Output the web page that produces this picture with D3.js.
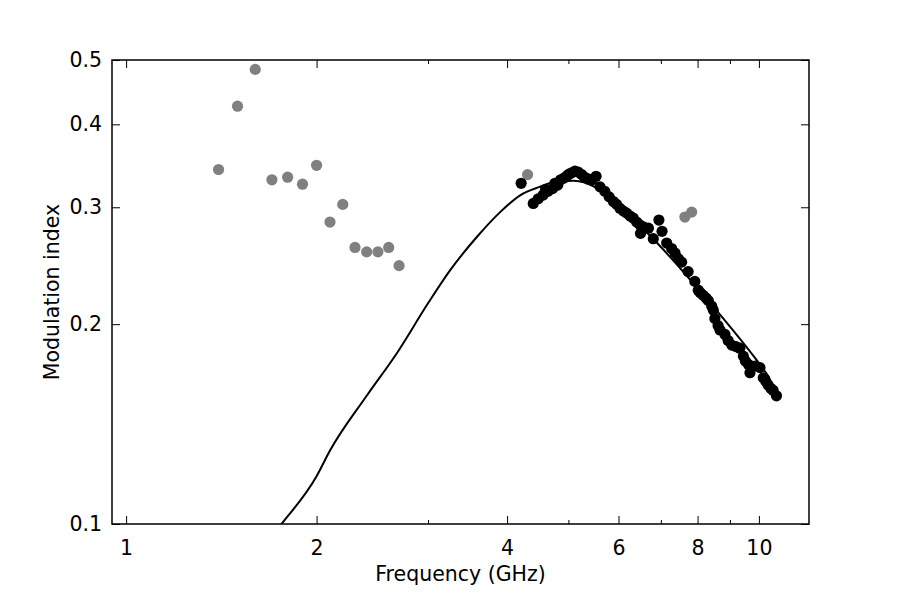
<!DOCTYPE html>
<html>
<head>
<meta charset="utf-8">
<script src="https://cdn.jsdelivr.net/npm/d3@7"></script>
<style>
  body { margin: 0; background: #fff; }
  text { font-family: "DejaVu Sans", sans-serif; fill: #000; }
</style>
</head>
<body>
<div class="chart"></div>
<script>

// gray points (low-frequency set and a few strays)
var grayFreq = [1.4, 1.5, 1.6, 1.7, 1.8, 1.9, 2.0, 2.1, 2.2, 2.3, 2.4, 2.5, 2.6, 2.7, 4.31, 7.64, 7.83];
var grayVals = [0.342, 0.426, 0.484, 0.330, 0.333, 0.325, 0.347, 0.285, 0.303, 0.261, 0.257, 0.257, 0.261, 0.245, 0.336, 0.290, 0.295];

// black points
var blackFreq = [4.21, 4.40, 4.48, 4.56, 4.60, 4.64, 4.72, 4.76, 4.81, 4.86, 4.92, 4.98, 5.02, 5.06, 5.12, 5.18, 5.25, 5.30, 5.37, 5.45, 5.53, 5.61,
    5.71, 5.80, 5.89, 5.96, 6.03, 6.11, 6.18, 6.26, 6.33, 6.41, 6.49, 6.50, 6.58, 6.69, 6.81, 6.95, 7.03,
    7.15, 7.28, 7.37, 7.46, 7.55, 7.73, 7.92, 8.02, 8.08, 8.17, 8.25, 8.32, 8.42, 8.47, 8.52, 8.62, 8.68,
    8.84, 8.94, 9.06, 9.20, 9.33, 9.45, 9.52, 9.62, 9.68, 9.86, 10.04, 10.16, 10.26, 10.34, 10.45, 10.53, 10.66];
var blackVals = [0.326, 0.304, 0.309, 0.313, 0.319, 0.317, 0.320, 0.326, 0.324, 0.330, 0.332, 0.335, 0.337, 0.338, 0.340, 0.339, 0.336, 0.333, 0.331, 0.330, 0.334, 0.322,
    0.317, 0.311, 0.306, 0.303, 0.299, 0.296, 0.294, 0.291, 0.289, 0.285, 0.282, 0.274, 0.280, 0.279, 0.269, 0.287, 0.276,
    0.265, 0.260, 0.256, 0.251, 0.248, 0.240, 0.232, 0.225, 0.223, 0.221, 0.219, 0.217, 0.213, 0.210, 0.204, 0.199, 0.196,
    0.193, 0.189, 0.186, 0.185, 0.184, 0.179, 0.176, 0.174, 0.169, 0.173, 0.172, 0.166, 0.164, 0.162, 0.160, 0.159, 0.156];

// model curve
var lineFreq = [1.70, 1.76, 2.0, 2.1, 2.4, 2.68, 3.0, 3.25, 3.6, 3.9, 4.2, 4.5, 4.8, 5.1, 5.5, 6.0, 6.7, 7.8, 8.6, 9.9, 10.4];
var lineVals = [0.096, 0.100, 0.118, 0.129, 0.156, 0.181, 0.215, 0.241, 0.272, 0.295, 0.313, 0.322, 0.328, 0.329, 0.322, 0.300, 0.273, 0.233, 0.209, 0.177, 0.166];

var xTicks = [1, 2, 4, 6, 8, 10];
var xMinorTicks = [3, 5, 7, 9];
var yTicks = [0.1, 0.2, 0.3, 0.4, 0.5];

var svgWidth = 900;
var svgHeight = 600;
var margin = { top: 60, right: 91, bottom: 76, left: 112 };
var width = svgWidth - margin.left - margin.right;
var height = svgHeight - margin.top - margin.bottom;

var svg = d3.select(".chart")
    .append("svg")
    .attr("width", svgWidth)
    .attr("height", svgHeight);

var chartGroup = svg.append("g")
    .attr("transform", `translate(${margin.left}, ${margin.top})`);

var xScale = d3.scaleLog().domain([0.95, 12]).range([0, width]);
var yScale = d3.scaleLog().domain([0.1, 0.5]).range([height, 0]);

svg.append("clipPath").attr("id", "plotclip")
    .append("rect").attr("width", width).attr("height", height);

var fontSize = "20.5px";

// axes, ticks pointing inward
function styleAxis(g) {
    g.select(".domain").remove();
    g.selectAll("line").attr("stroke", "#000").attr("stroke-width", 1);
    g.selectAll("text").style("font-size", fontSize).attr("font-family", "DejaVu Sans");
}

chartGroup.append("g")
    .attr("transform", `translate(0, ${height})`)
    .call(d3.axisBottom(xScale).tickValues(xTicks).tickFormat(d3.format("d")).tickSizeInner(-8).tickPadding(16))
    .call(styleAxis);

chartGroup.append("g")
    .attr("transform", `translate(0, ${height})`)
    .call(d3.axisBottom(xScale).tickValues(xMinorTicks).tickFormat("").tickSizeInner(-4))
    .call(styleAxis);

chartGroup.append("g")
    .call(d3.axisTop(xScale).tickValues(xTicks).tickFormat("").tickSizeInner(-8))
    .call(styleAxis);

chartGroup.append("g")
    .call(d3.axisTop(xScale).tickValues(xMinorTicks).tickFormat("").tickSizeInner(-4))
    .call(styleAxis);

chartGroup.append("g")
    .call(d3.axisLeft(yScale).tickValues(yTicks).tickFormat(d3.format(".1f")).tickSizeInner(-8).tickPadding(10))
    .call(styleAxis);

chartGroup.append("g")
    .attr("transform", `translate(${width}, 0)`)
    .call(d3.axisRight(yScale).tickValues(yTicks).tickFormat("").tickSizeInner(-8))
    .call(styleAxis);

var plot = chartGroup.append("g").attr("clip-path", "url(#plotclip)");

plot.selectAll(".gray")
    .data(d3.range(grayFreq.length))
    .enter()
    .append("circle")
    .attr("class", "gray")
    .attr("cx", i => xScale(grayFreq[i]))
    .attr("cy", i => yScale(grayVals[i]))
    .attr("r", 5.6)
    .attr("fill", "#808080");

var line = d3.line()
    .x(i => xScale(lineFreq[i]))
    .y(i => yScale(lineVals[i]))
    .curve(d3.curveMonotoneX);

plot.append("path")
    .datum(d3.range(lineFreq.length))
    .attr("d", line)
    .attr("fill", "none")
    .attr("stroke", "#000")
    .attr("stroke-width", 2);

plot.selectAll(".black")
    .data(d3.range(blackFreq.length))
    .enter()
    .append("circle")
    .attr("class", "black")
    .attr("cx", i => xScale(blackFreq[i]))
    .attr("cy", i => yScale(blackVals[i]))
    .attr("r", 5.6)
    .attr("fill", "#000");

// frame
chartGroup.append("rect")
    .attr("width", width)
    .attr("height", height)
    .attr("fill", "none")
    .attr("stroke", "#000")
    .attr("stroke-width", 1.5);

// axis labels
chartGroup.append("text")
    .attr("transform", "rotate(-90)")
    .attr("x", -height / 2)
    .attr("y", -margin.left + 59)
    .attr("text-anchor", "middle")
    .style("font-size", fontSize)
    .text("Modulation index");

chartGroup.append("text")
    .attr("x", width / 2)
    .attr("y", height + 57)
    .attr("text-anchor", "middle")
    .style("font-size", fontSize)
    .text("Frequency (GHz)");

</script>
</body>
</html>
